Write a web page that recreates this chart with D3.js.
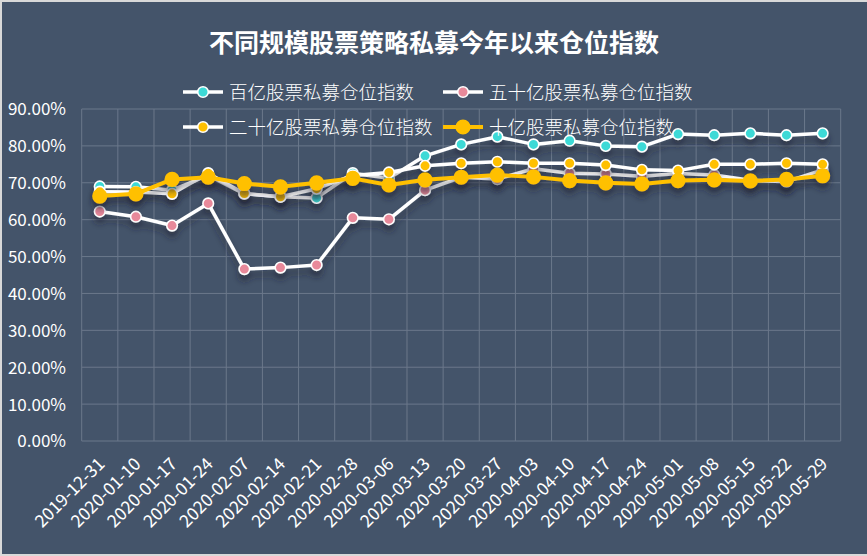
<!DOCTYPE html>
<html><head><meta charset="utf-8">
<script src="https://cdn.jsdelivr.net/npm/d3@7"></script>
<style>
html,body{margin:0;padding:0;background:#d9d9d9;}
svg{display:block;}
text{font-family:"Noto Sans CJK SC","Noto Sans",sans-serif;}
</style></head><body>
<svg id="c" width="867" height="556"></svg>
<script>
const dates = ["2019-12-31","2020-01-10","2020-01-17","2020-01-24","2020-02-07","2020-02-14","2020-02-21","2020-02-28","2020-03-06","2020-03-13","2020-03-20","2020-03-27","2020-04-03","2020-04-10","2020-04-17","2020-04-24","2020-05-01","2020-05-08","2020-05-15","2020-05-22","2020-05-29"];
const seriesNames = ["百亿股票私募仓位指数","五十亿股票私募仓位指数","二十亿股票私募仓位指数","十亿股票私募仓位指数"];
const s100 = [69.0,68.9,68.0,72.0,67.0,66.2,65.9,72.6,71.2,77.3,80.4,82.5,80.4,81.4,80.0,79.8,83.2,82.9,83.4,82.9,83.4];
const s50  = [62.2,60.8,58.4,64.4,46.6,47.0,47.7,60.5,60.1,68.0,71.5,71.0,73.8,72.6,72.4,71.8,72.5,72.1,70.7,70.3,73.5];
const s20  = [67.6,67.5,67.0,72.6,67.1,66.2,68.4,72.0,72.8,74.6,75.3,75.7,75.3,75.3,74.8,73.5,73.3,75.0,75.0,75.3,75.0];
const s10  = [66.4,67.0,70.9,71.5,69.8,68.9,70.0,71.2,69.4,70.8,71.5,72.1,71.6,70.6,70.0,69.7,70.6,70.8,70.5,70.9,71.9];
const yTicks = [0,10,20,30,40,50,60,70,80,90];
const title = "不同规模股票策略私募今年以来仓位指数";

const svg = d3.select("#c");
svg.append("rect").attr("x",2).attr("y",2).attr("width",865).attr("height",552).attr("fill","#44546a");

const defs = svg.append("defs");
const f = defs.append("filter").attr("id","sh").attr("x","-10%").attr("y","-30%").attr("width","120%").attr("height","180%");
f.append("feDropShadow").attr("dx",0).attr("dy",6).attr("stdDeviation",3).attr("flood-color","#1a2230").attr("flood-opacity",0.55);

const x = d3.scaleBand().domain(dates).range([81.7,840.7]).padding(0);
const y = d3.scaleLinear().domain([0,90]).range([441,109]);
const cx = d => x(d) + x.bandwidth()/2;

// grid
const g = svg.append("g");
g.selectAll("line.h").data(yTicks).join("line")
  .attr("x1",81.7).attr("x2",840.7).attr("y1",d=>y(d)).attr("y2",d=>y(d))
  .attr("stroke","#6b788b").attr("stroke-width",1);
const bounds = dates.map(d=>x(d)).concat([x.range()[1]]);
g.selectAll("line.v").data(bounds).join("line")
  .attr("x1",d=>d).attr("x2",d=>d).attr("y1",y(90)).attr("y2",y(0))
  .attr("stroke","#6b788b").attr("stroke-width",1);

// y axis labels
const yAxis = d3.axisLeft(y).tickValues(yTicks).tickSize(0).tickPadding(0).tickFormat(d=>d.toFixed(2)+"%");
const ya = svg.append("g").attr("transform","translate(66,0)").call(yAxis);
ya.select(".domain").remove();
ya.selectAll("text").attr("fill","#ffffff").attr("font-size",17).attr("font-family","'Open Sans','Noto Sans',sans-serif").attr("dy","0.35em");

// x axis labels
const xAxis = d3.axisBottom(x).tickSize(0).tickPadding(0);
const xa = svg.append("g").attr("transform","translate(0,441)").call(xAxis);
xa.select(".domain").remove();
xa.selectAll("text").attr("fill","#ffffff").attr("font-size",17.5).attr("font-family","'Open Sans','Noto Sans',sans-serif")
  .attr("text-anchor","end").attr("dy",0).attr("y",0)
  .attr("transform","translate(6,24) rotate(-45)");

// series
const data = [
  {name:seriesNames[0], vals:s100, line:"#ffffff", fill:"#3cd9d6", stroke:"#ffffff", r:5.3, lw:3.5},
  {name:seriesNames[1], vals:s50,  line:"#ffffff", fill:"#e8899a", stroke:"#ffffff", r:5.3, lw:3.5},
  {name:seriesNames[2], vals:s20,  line:"#ffffff", fill:"#ffc000", stroke:"#ffffff", r:5.3, lw:3.5},
  {name:seriesNames[3], vals:s10,  line:"#ffc000", fill:"#ffc000", stroke:"#ffc000", r:6.8, lw:4}
];
const lineGen = d3.line().x((d,i)=>cx(dates[i])).y(d=>y(d));
data.forEach(s=>{
  const gs = svg.append("g").attr("filter","url(#sh)");
  gs.append("path").attr("d",lineGen(s.vals)).attr("fill","none").attr("stroke",s.line).attr("stroke-width",s.lw).attr("stroke-linejoin","round");
  gs.selectAll("circle").data(s.vals).join("circle")
    .attr("cx",(d,i)=>cx(dates[i])).attr("cy",d=>y(d)).attr("r",s.r)
    .attr("fill",s.fill).attr("stroke",s.stroke).attr("stroke-width",1.6);
});

// title
svg.append("text").attr("x",434).attr("y",52).attr("text-anchor","middle")
  .attr("fill","#ffffff").attr("font-size",25).attr("font-weight","bold").text(title);

// legend
const leg = [
  {s:data[0], lx:183, ty:92},
  {s:data[1], lx:443, ty:92},
  {s:data[2], lx:183, ty:127},
  {s:data[3], lx:443, ty:127}
];
leg.forEach(l=>{
  const gl = svg.append("g");
  gl.append("line").attr("x1",l.lx).attr("x2",l.lx+40).attr("y1",l.ty).attr("y2",l.ty)
    .attr("stroke",l.s.line).attr("stroke-width",l.s.lw);
  gl.append("circle").attr("cx",l.lx+20).attr("cy",l.ty).attr("r",l.s.r)
    .attr("fill",l.s.fill).attr("stroke",l.s.stroke).attr("stroke-width",1.6);
  gl.append("text").attr("x",l.lx+46).attr("y",l.ty).attr("dy","0.36em")
    .attr("fill","#ffffff").attr("font-size",18.5).attr("font-weight",300).text(l.s.name);
});
</script></body></html>
